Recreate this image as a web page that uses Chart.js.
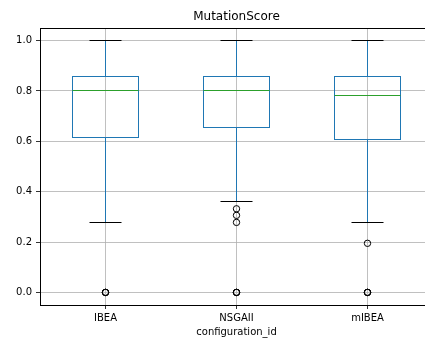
<!DOCTYPE html>
<html>
<head>
<meta charset="utf-8">
<script src="https://cdn.jsdelivr.net/npm/chart.js@4/dist/chart.umd.min.js"></script>
<style>
  html, body { margin: 0; padding: 0; overflow: hidden; background: #fff; }
  canvas { display: block; }
</style>
</head>
<body>
<canvas id="boxChart" width="425" height="343"></canvas>
<script>
// Box statistics
const categories = ['IBEA', 'NSGAII', 'mIBEA'];
const whiskerLow = [0.277, 0.362, 0.277];
const q1 = [0.616, 0.653, 0.609];
const median = [0.8, 0.8, 0.780];
const q3 = [0.856, 0.856, 0.856];
const whiskerHigh = [1.0, 1.0, 1.0];
const outliers = [
  [0.0, 0.0, 0.0],
  [0.0, 0.0, 0.0, 0.278, 0.306, 0.332],
  [0.0, 0.0, 0.0, 0.195]
];
const yTicks = [0.0, 0.2, 0.4, 0.6, 0.8, 1.0];

const FONT = 'DejaVu Sans';
const BOX_WIDTH = 0.5;
const CAP_WIDTH = 0.25;
// the original axes run from 0.5 to 3.5, but the picture is cut off on the right
const X_MIN = 0.5;
const X_MAX = 3.439;
const X_MID = 2;

const outlierPoints = [];
outliers.forEach((vals, i) => {
  vals.forEach(v => outlierPoints.push({ x: i + 1, y: v }));
});

function line(ctx, x1, y1, x2, y2) {
  ctx.beginPath();
  ctx.moveTo(x1, y1);
  ctx.lineTo(x2, y2);
  ctx.stroke();
}

// no extra room for overflowing tick labels
function noPadding(s) {
  s.paddingLeft = 0;
  s.paddingRight = 0;
  s.paddingTop = 0;
  s.paddingBottom = 0;
}

const boxPlugin = {
  id: 'boxPlugin',
  beforeDatasetsDraw(chart) {
    const ctx = chart.ctx;
    const xs = chart.scales.x;
    const ys = chart.scales.y;
    // same pixel alignment Chart.js uses for its grid lines
    const snap = v => Math.round(v - 0.5) + 0.5;
    ctx.save();
    ctx.lineWidth = 1;
    categories.forEach((name, i) => {
      const pos = i + 1;
      const cx = snap(xs.getPixelForValue(pos));
      const left = snap(xs.getPixelForValue(pos - BOX_WIDTH / 2));
      const right = snap(xs.getPixelForValue(pos + BOX_WIDTH / 2));
      const capL = snap(xs.getPixelForValue(pos - CAP_WIDTH / 2));
      const capR = snap(xs.getPixelForValue(pos + CAP_WIDTH / 2));
      const yLo = snap(ys.getPixelForValue(whiskerLow[i]));
      const yQ1 = snap(ys.getPixelForValue(q1[i]));
      const yMed = snap(ys.getPixelForValue(median[i]));
      const yQ3 = snap(ys.getPixelForValue(q3[i]));
      const yHi = snap(ys.getPixelForValue(whiskerHigh[i]));

      // whiskers
      ctx.strokeStyle = '#1f77b4';
      line(ctx, cx, yQ1, cx, yLo);
      line(ctx, cx, yQ3, cx, yHi);
      // box
      ctx.strokeRect(left, yQ3, right - left, yQ1 - yQ3);
      // caps
      ctx.strokeStyle = '#000';
      line(ctx, capL, yLo, capR, yLo);
      line(ctx, capL, yHi, capR, yHi);
      // median
      ctx.strokeStyle = '#2ca02c';
      line(ctx, left, yMed, right, yMed);
    });
    ctx.restore();
  },
  afterDraw(chart) {
    const ctx = chart.ctx;
    const area = chart.chartArea;
    const mid = chart.scales.x.getPixelForValue(X_MID);
    ctx.save();
    // top spine
    ctx.strokeStyle = '#000';
    ctx.lineWidth = 1;
    line(ctx, area.left, Math.round(area.top) + 0.5, area.right, Math.round(area.top) + 0.5);
    // title and x label, centred over the full (uncut) axes
    ctx.fillStyle = '#000';
    ctx.textAlign = 'center';
    ctx.textBaseline = 'middle';
    ctx.font = '12px "' + FONT + '"';
    ctx.fillText('MutationScore', mid, 17);
    ctx.font = '10px "' + FONT + '"';
    ctx.fillText('configuration_id', mid, 332);
    ctx.restore();
  }
};

const ctx = document.getElementById('boxChart').getContext('2d');
new Chart(ctx, {
  type: 'scatter',
  data: {
    datasets: [{
      label: 'outliers',
      data: outlierPoints,
      pointStyle: 'circle',
      pointRadius: 3.2,
      borderWidth: 1,
      borderColor: '#000',
      backgroundColor: 'rgba(0,0,0,0)',
      showLine: false
    }]
  },
  options: {
    responsive: false,
    animation: false,
    events: [],
    layout: { autoPadding: false, padding: { top: 28, left: 0, right: 0, bottom: 0 } },
    plugins: {
      legend: { display: false },
      tooltip: { enabled: false },
      title: { display: false }
    },
    scales: {
      x: {
        type: 'linear',
        min: X_MIN,
        max: X_MAX,
        afterBuildTicks: s => { s.ticks = categories.map((c, i) => ({ value: i + 1 })); },
        afterFit: s => { s.height = 38; noPadding(s); },
        ticks: {
          autoSkip: false,
          maxRotation: 0,
          padding: 3,
          color: '#000',
          font: { family: FONT, size: 10 },
          callback: v => categories[v - 1]
        },
        grid: {
          color: '#b0b0b0',
          lineWidth: 0.8,
          tickColor: '#000',
          tickLength: 4
        },
        border: { color: '#000', width: 1 }
      },
      y: {
        type: 'linear',
        min: -0.05,
        max: 1.05,
        afterBuildTicks: s => { s.ticks = yTicks.map(v => ({ value: v })); },
        afterFit: s => { s.width = 40; noPadding(s); },
        ticks: {
          padding: 4,
          color: '#000',
          font: { family: FONT, size: 10 },
          callback: v => Number(v).toFixed(1)
        },
        grid: {
          color: '#b0b0b0',
          lineWidth: 0.8,
          tickColor: '#000',
          tickLength: 4
        },
        border: { color: '#000', width: 1 }
      }
    }
  },
  plugins: [boxPlugin]
});
</script>
</body>
</html>
